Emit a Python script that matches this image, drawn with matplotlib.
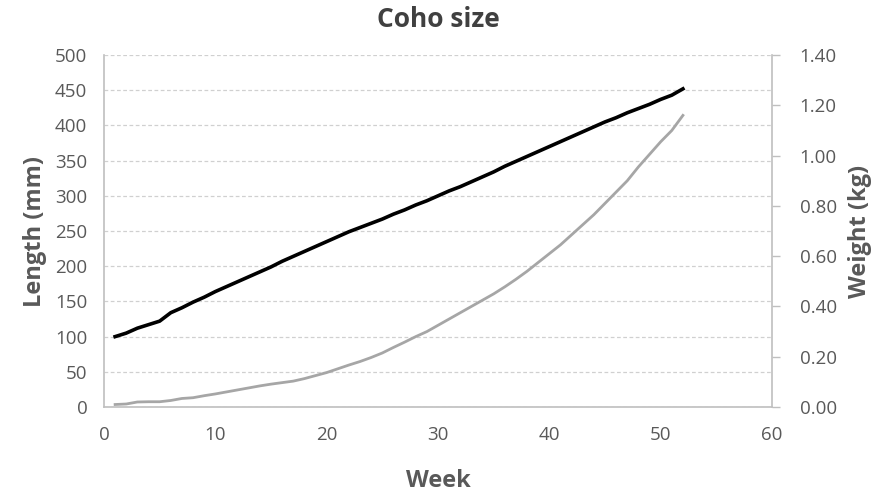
import matplotlib.pyplot as plt
from matplotlib.ticker import FormatStrFormatter

# weekly growth of coho salmon
week = list(range(1, 53))
length_mm = [100, 105, 112, 117, 122, 134, 141, 149, 156, 164,
             171, 178, 185, 192, 199, 207, 214, 221, 228, 235,
             242, 249, 255, 261, 267, 274, 280, 287, 293, 300,
             307, 313, 320, 327, 334, 342, 349, 356, 363, 370,
             377, 384, 391, 398, 405, 411, 418, 424, 430, 437,
             443, 452]
weight_kg = [0.010, 0.012, 0.020, 0.021, 0.021, 0.026, 0.034, 0.037, 0.045, 0.052,
             0.060, 0.068, 0.076, 0.084, 0.091, 0.097, 0.103, 0.113, 0.125, 0.137,
             0.152, 0.167, 0.181, 0.197, 0.215, 0.237, 0.258, 0.280, 0.300, 0.325,
             0.350, 0.375, 0.400, 0.425, 0.450, 0.478, 0.508, 0.540, 0.575, 0.610,
             0.645, 0.685, 0.725, 0.765, 0.810, 0.855, 0.900, 0.955, 1.005, 1.055,
             1.100, 1.160]

txt = "#595959"
axis_col = "#bfbfbf"
plt.rcParams['font.family'] = ['Open Sans', 'DejaVu Sans']

fig = plt.figure(figsize=(8.85, 4.96), dpi=100)
ax1 = fig.add_axes([0.1175, 0.1794, 0.7548, 0.7096])
ax1.plot(week, length_mm, color="black", lw=2.6, zorder=3)
ax1.set_xlim(0, 60)
ax1.set_ylim(0, 500)
ax1.set_xticks(range(0, 61, 10))
ax1.set_yticks(range(0, 501, 50))
ax1.yaxis.grid(True, linestyle=(0, (3, 2)), color="#d0d0d0", lw=0.9)
ax1.set_axisbelow(True)
ax1.tick_params(axis="both", length=0, labelsize=13.5, colors=txt)
ax1.tick_params(axis="x", pad=14)
ax1.tick_params(axis="y", pad=12)
ax1.set_ylabel("Length (mm)", fontsize=17, fontweight="bold", color=txt, labelpad=6)
ax1.set_xlabel("Week", fontsize=17, fontweight="bold", color=txt, labelpad=18)
ax1.set_title("Coho size", fontsize=19, fontweight="bold", color="#404040", pad=20)
for s in ["top", "right"]:
    ax1.spines[s].set_visible(False)
for s in ["left", "bottom"]:
    ax1.spines[s].set_color(axis_col)
    ax1.spines[s].set_linewidth(1.2)

ax2 = ax1.twinx()
ax2.plot(week, weight_kg, color="#a6a6a6", lw=2.0, zorder=2)
ax2.set_ylim(0, 1.4)
ax2.set_yticks([0.0, 0.2, 0.4, 0.6, 0.8, 1.0, 1.2, 1.4])
ax2.yaxis.set_major_formatter(FormatStrFormatter('%.2f'))
ax2.tick_params(axis="y", length=6, width=1, color=axis_col, labelsize=13.5, labelcolor=txt, pad=14)
ax2.set_ylabel("Weight (kg)", fontsize=17, fontweight="bold", color=txt, labelpad=8)
for s in ["top", "left", "bottom"]:
    ax2.spines[s].set_visible(False)
ax2.spines["right"].set_color(axis_col)
ax2.spines["right"].set_linewidth(1.2)

plt.savefig("out.png", dpi=100)
